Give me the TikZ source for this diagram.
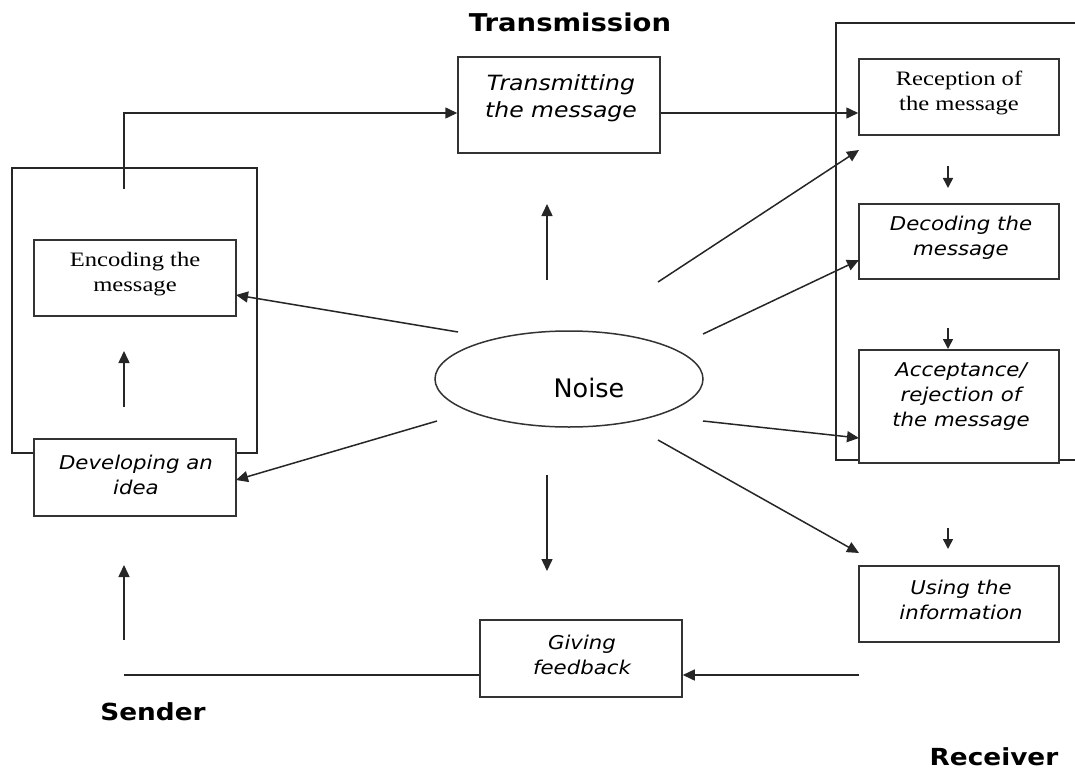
\documentclass[tikz,border=0pt]{standalone}
\usepackage{fontspec}
\usetikzlibrary{arrows.meta,shapes.geometric}
\newfontfamily\vsans[FakeStretch=1.12]{DejaVu Sans}
\newfontfamily\tserif[FakeStretch=1.2]{Liberation Serif}
\newfontfamily\plainsans{DejaVu Sans}

\begin{document}
\begin{tikzpicture}[x=1pt,y=-1pt,
  stage/.style={draw=black!80, line width=1.5pt, fill=white, inner sep=0pt},
  ln/.style={draw=black!85, line width=1.5pt},
  arr/.style={ln, -{Triangle[length=12pt,width=11pt]}},
  tick/.style={ln, -{Triangle[length=10pt,width=10pt]}},
  itx/.style={font=\vsans\itshape\fontsize{19}{25}\selectfont, align=center, text=black},
  bigitx/.style={font=\vsans\itshape\fontsize{21}{27}\selectfont, align=center, text=black},
  srx/.style={font=\tserif\fontsize{20.5}{25}\selectfont, align=center, text=black},
  head/.style={font=\vsans\bfseries\fontsize{23.5}{26}\selectfont}]

\clip (0,0) rectangle (1075,770);

% sender and receiver frames
\draw[ln] (12,168) rectangle (257,453);
\draw[ln] (1090,23) -- (836,23) -- (836,460) -- (1090,460);

% stages
\node[stage, minimum width=202pt, minimum height=96pt] (trans) at (559,105) {};
\node[stage, minimum width=202pt, minimum height=76pt] (enc) at (135,278) {};
\node[stage, minimum width=202pt, minimum height=77pt] (dev) at (135,477.5) {};
\node[stage, minimum width=200pt, minimum height=76pt] (rec) at (959,97) {};
\node[stage, minimum width=200pt, minimum height=75pt] (dec) at (959,241.5) {};
\node[stage, minimum width=200pt, minimum height=113pt] (acc) at (959,406.5) {};
\node[stage, minimum width=200pt, minimum height=76pt] (use) at (959,604) {};
\node[stage, minimum width=202pt, minimum height=77pt] (fb) at (581,658.5) {};
\node[ellipse, draw=black!80, line width=1.5pt, minimum width=268pt, minimum height=96pt] (noise) at (569,379) {};

% stage texts
\node[bigitx] (transT) at (561,98) {Transmitting\\the message};
\node[srx] (encT) at (135,274) {Encoding the\\message};
\node[itx] (devT) at (136,475) {Developing an\\idea};
\node[srx] (recT) at (959,93) {Reception of\\the message};
\node[itx] (decT) at (961,238) {Decoding the\\message};
\node[itx] (accT) at (961,397) {Acceptance/\\rejection of\\the message};
\node[itx] (useT) at (961,600) {Using the\\information};
\node[itx] (fbT) at (582,655) {Giving\\feedback};
\node[font=\plainsans\fontsize{25.5}{28}\selectfont] (noiseT) at (589,388) {Noise};

% headings
\node[head, font=\vsans\bfseries\fontsize{24.5}{26}\selectfont] (hT) at (570,22) {Transmission};
\node[head] (hS) at (153,712) {Sender};
\node[head] (hR) at (994,757) {Receiver};

% sender flow
\coordinate (encTop) at (124,189);
\draw[arr] (encTop) |- ([yshift=-8pt]trans.west);
\draw[arr] ([yshift=-8pt]trans.east) -- ([yshift=-8pt]trans.east -| rec.west);
\coordinate (devUp0) at (124,407);
\coordinate (devUp1) at (124,351);
\draw[arr] (devUp0) -- (devUp1);
\coordinate (fbUp0) at (124,640);
\coordinate (fbUp1) at (124,565);
\draw[arr] (fbUp0) -- (fbUp1);
\coordinate (fbEnd) at (124,675);
\coordinate (fbIn) at (859,675);
\draw[ln] (fbEnd) -- (fbEnd -| fb.west);
\draw[arr] (fbIn) -- (fbIn -| fb.east);

% receiver steps
\coordinate (t1a) at (948,166); \coordinate (t1b) at (948,188);
\coordinate (t2a) at (948,328); \coordinate (t2b) at (948,349);
\coordinate (t3a) at (948,528); \coordinate (t3b) at (948,549);
\draw[tick] (t1a) -- (t1b);
\draw[tick] (t2a) -- (t2b);
\draw[tick] (t3a) -- (t3b);

% noise influences
\coordinate (nU0) at (547,280); \coordinate (nU1) at (547,204);
\coordinate (nD0) at (547,475); \coordinate (nD1) at (547,571);
\coordinate (nE0) at (458,332); \coordinate (nE1) at (236,295);
\coordinate (nV0) at (437,421); \coordinate (nV1) at (236,480);
\coordinate (nR0) at (658,282); \coordinate (nR1) at (859,150);
\coordinate (nC0) at (703,334); \coordinate (nC1) at (859,260);
\coordinate (nA0) at (703,421); \coordinate (nA1) at (859,438);
\coordinate (nI0) at (658,440); \coordinate (nI1) at (859,553);
\draw[arr] (nU0) -- (nU1);
\draw[arr] (nD0) -- (nD1);
\draw[arr] (nE0) -- (nE1);
\draw[arr] (nV0) -- (nV1);
\draw[arr] (nR0) -- (nR1);
\draw[arr] (nC0) -- (nC1);
\draw[arr] (nA0) -- (nA1);
\draw[arr] (nI0) -- (nI1);
\end{tikzpicture}
\end{document}
